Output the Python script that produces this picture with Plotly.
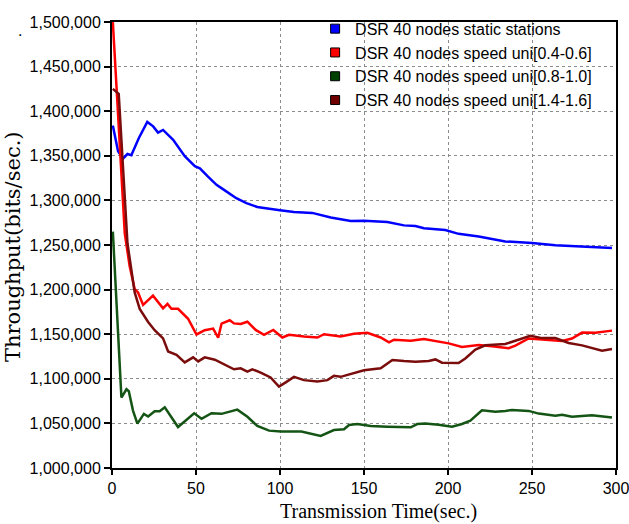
import plotly.graph_objects as go

# Transmission time (sec.) and throughput (bits/sec.) per scenario
series_names = [
    "DSR 40 nodes static stations",
    "DSR 40 nodes speed uni[0.4-0.6]",
    "DSR 40 nodes speed uni[0.8-1.0]",
    "DSR 40 nodes speed uni[1.4-1.6]",
]
series_colors = ["#0000ff", "#ff0000", "#145414", "#7a0c0c"]
legend_colors = ["#0000ff", "#ff0000", "#004000", "#700000"]

static_t = [0.5, 3.6, 6.6, 9.2, 11.5, 16, 21, 24.5, 27.4, 30.4, 36.4, 43.3, 49.3, 52.3,
            57, 62.2, 66.7, 74, 80, 86.5, 90.5, 94.4, 100, 108.3, 119.2, 130.2, 142.1,
            150, 163.9, 173.8, 180.6, 185.7, 198.4, 206.3, 218.3, 234.1, 250, 263.9,
            279.8, 297.6]
static_tp = [1384000, 1355000, 1347000, 1352000, 1350600, 1370000, 1388000, 1383000,
             1376000, 1379000, 1368000, 1349500, 1338400, 1336000, 1327000, 1317500,
             1311800, 1302500, 1297000, 1292600, 1291500, 1290800, 1289000, 1287100,
             1286000, 1280900, 1276800, 1277200, 1275700, 1272000, 1271300, 1268800,
             1266900, 1262500, 1259600, 1254000, 1252200, 1249600, 1248500, 1246700]

slow_t = [0.5, 7.6, 10.5, 13.5, 15.5, 18.5, 24.4, 30.4, 33, 35.4, 39.3, 45.3, 50.3, 55.2,
          60.2, 63.2, 65.2, 70.1, 72.6, 76.6, 80.6, 85.5, 90.5, 96, 101.4, 105.4, 114.3,
          122.2, 126.2, 136.1, 144, 152, 159.9, 164.9, 167.9, 177.8, 185.7, 200.4, 208.3,
          218.3, 226.2, 236.1, 240.1, 248, 259.9, 267.9, 273.8, 279.8, 287.7, 297.6]
slow_tp = [1500000, 1263000, 1226300, 1200500, 1196800, 1182800, 1193200, 1179000,
           1184000, 1178400, 1178400, 1167300, 1149700, 1154500, 1156300, 1146000,
           1161800, 1165600, 1162100, 1161400, 1164000, 1154800, 1149300, 1154800,
           1146300, 1149300, 1147400, 1146300, 1150000, 1147400, 1150400, 1151500,
           1146300, 1140800, 1143800, 1142600, 1144500, 1139700, 1135700, 1137900,
           1136400, 1134200, 1137100, 1145200, 1143400, 1142300, 1145200, 1151800,
           1151500, 1154000]

mid_t = [0.5, 5.6, 8.6, 10, 12.5, 15.1, 19, 21.5, 25.4, 28.4, 31.4, 39.3, 48.9, 53.3,
         59.2, 65.2, 74.6, 80.6, 86.5, 93.5, 100.4, 112.7, 124.2, 132.1, 138.1, 141.1,
         146, 154, 163.9, 171.8, 177.8, 181.7, 186.5, 194.4, 202.4, 208.3, 213.3, 220.2,
         228.2, 234.1, 238.1, 248, 254, 263.9, 267.9, 273.8, 285.7, 297.6]
mid_tp = [1265000, 1079000, 1088300, 1086000, 1064400, 1049700, 1060700, 1057700,
          1063600, 1063600, 1068000, 1045900, 1061400, 1055200, 1061400, 1060700,
          1065400, 1057400, 1047100, 1041900, 1040800, 1040800, 1036000, 1042600,
          1043400, 1048200, 1049300, 1047100, 1046300, 1046300, 1045600, 1049300,
          1050000, 1048500, 1046300, 1049300, 1053000, 1064700, 1063200, 1064000,
          1065100, 1064000, 1061000, 1058500, 1059600, 1057400, 1059200, 1056600]

fast_t = [0.5, 4, 9.2, 13.5, 16.5, 21.5, 25.4, 30.4, 33.4, 38.4, 43.3, 48.3, 51.3, 55.2,
          61.2, 67.2, 72.6, 76.6, 80.6, 83.5, 88.5, 94.4, 99.4, 103.4, 108.3, 114.3,
          122.2, 128.2, 132.1, 136.1, 142.1, 150, 159.9, 161.9, 166.9, 173.8, 180.6,
          188.5, 192.5, 196.4, 206.3, 210.3, 216.3, 222.2, 234.1, 240.1, 249, 256,
          263.9, 271.8, 279.8, 291.7, 297.6]
fast_tp = [1425000, 1419500, 1252000, 1196800, 1178400, 1163700, 1154500, 1145300,
           1130600, 1126900, 1118400, 1124000, 1119500, 1124000, 1121400, 1115900,
           1110700, 1111800, 1108100, 1110700, 1107000, 1101500, 1091200, 1096000,
           1102200, 1098500, 1097100, 1098500, 1103300, 1102200, 1105100, 1109600,
           1111800, 1114300, 1121000, 1119900, 1119100, 1119900, 1121700, 1118000,
           1117700, 1122800, 1132700, 1137500, 1139000, 1142600, 1148200, 1145600,
           1145600, 1140100, 1137500, 1131600, 1133500]

x_ticks = [0, 50, 100, 150, 200, 250, 300]
y_ticks = [1000000, 1050000, 1100000, 1150000, 1200000, 1250000, 1300000, 1350000,
           1400000, 1450000, 1500000]

series_t = [static_t, slow_t, mid_t, fast_t]
series_tp = [static_tp, slow_tp, mid_tp, fast_tp]

SANS = "Arial, Liberation Sans, sans-serif"
SERIF = "Times New Roman, Liberation Serif, serif"

fig = go.Figure()

# Throughput curves
for t, tp, c in zip(series_t, series_tp, series_colors):
    fig.add_trace(go.Scatter(
        x=t, y=tp, mode="lines", showlegend=False, hoverinfo="skip",
        line=dict(color=c, width=2.5),
    ))

# Legend entries drawn as outlined squares
for name, c in zip(series_names, legend_colors):
    fig.add_trace(go.Scatter(
        x=[None], y=[None], mode="markers", name=name,
        marker=dict(symbol="square", size=9, color=c,
                    line=dict(color="black", width=1)),
    ))

grid = dict(showgrid=True, gridcolor="#8c8c8c", gridwidth=1, griddash="3px,3px")
frame = dict(showline=True, linecolor="black", linewidth=2, mirror=True,
             zeroline=False, automargin=False, ticklabeloverflow="allow",
             ticks="outside", tickwidth=1.5, tickcolor="black",
             tickfont=dict(family=SANS, size=16))

fig.update_layout(
    width=629, height=524,
    margin=dict(l=112, r=13, t=15, b=56),
    paper_bgcolor="white", plot_bgcolor="white",
    font=dict(family=SANS, size=16, color="black"),
    showlegend=True,
    legend=dict(
        x=0.403, xanchor="left", y=1.023, yanchor="top",
        bgcolor="rgba(0,0,0,0)", borderwidth=0,
        font=dict(family=SANS, size=16, color="black"),
        tracegroupgap=0, itemclick=False, itemdoubleclick=False,
    ),
    xaxis=dict(range=[0, 300], tickvals=x_ticks, ticklen=5, **frame, **grid),
    yaxis=dict(range=[1000000, 1500000], tickvals=y_ticks, tickformat=",d",
               ticklen=6, **frame, **grid),
    shapes=[
        # white panel behind the legend, hiding the grid there
        dict(type="rect", xref="paper", yref="paper",
             x0=0.4325, x1=1.0, y0=0.786, y1=1.0,
             fillcolor="white", line=dict(width=0), layer="between"),
    ],
    annotations=[
        # axis titles
        dict(text="Transmission Time(sec.)", xref="paper", yref="paper",
             x=0.528, y=-0.0965, xanchor="center", yanchor="middle",
             showarrow=False, font=dict(family=SERIF, size=20, color="black")),
        dict(text="Throughput(bits/sec.)", xref="paper", yref="paper",
             x=-0.195, y=0.497, xanchor="center", yanchor="middle",
             textangle=-90, showarrow=False,
             font=dict(family="DejaVu Serif, serif", size=21, color="black")),
        dict(text=".", xref="paper", yref="paper", x=-0.1834, y=0.982,
             xanchor="center", yanchor="middle",
             showarrow=False, font=dict(family=SANS, size=16, color="black")),
    ],
)

fig.write_html("out.html")
